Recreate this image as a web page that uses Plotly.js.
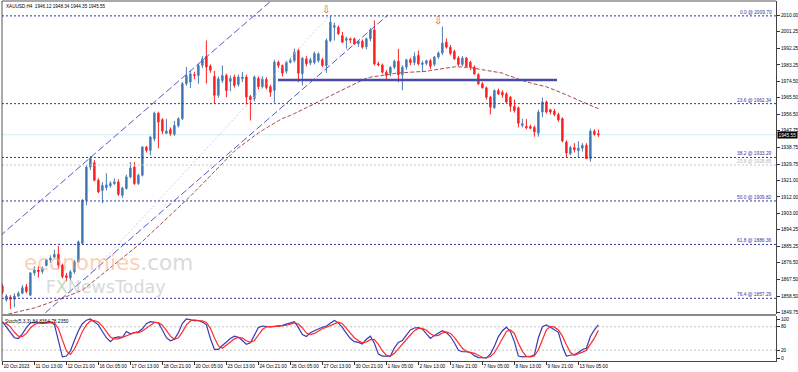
<!DOCTYPE html>
<html><head><meta charset="utf-8">
<script src="https://cdn.plot.ly/plotly-3.0.1.min.js"></script>
<style>html,body{margin:0;padding:0;background:#fff;}#chart{width:798px;height:372px;}</style>
</head><body><div id="chart"></div>
<script>
const headerText = "XAUUSD,H4  1946.12 1948.34 1944.35 1945.55";
const stochText = "Stoch(5,3,3) 84.8364 78.2350";
const timeLabels = ["10 Oct 2023","11 Oct 13:00","12 Oct 21:00","16 Oct 05:00","17 Oct 13:00","18 Oct 21:00","20 Oct 05:00","23 Oct 13:00","24 Oct 21:00","26 Oct 05:00","27 Oct 13:00","30 Oct 21:00","1 Nov 05:00","2 Nov 13:00","3 Nov 21:00","7 Nov 05:00","8 Nov 13:00","9 Nov 21:00","13 Nov 05:00"];
const barsPerLabel = 8;
const priceTicks = [2010.00,2001.25,1992.25,1983.25,1974.50,1965.50,1956.50,1947.75,1938.75,1929.75,1921.00,1912.00,1903.00,1894.25,1885.25,1876.50,1867.50,1858.50,1849.75];
const stochTicks = [0,20,80,100];

const opens = [1864.0,1856.5,1858.0,1856.8,1858.5,1860.0,1863.5,1859.0,1871.0,1872.5,
1871.8,1875.0,1878.0,1879.5,1881.0,1875.2,1869.5,1868.3,1871.6,1877.0,
1887.0,1910.2,1928.1,1930.5,1921.0,1915.5,1917.0,1918.0,1919.2,1920.1,
1912.9,1916.5,1922.8,1928.1,1919.2,1923.7,1938.9,1937.1,1943.4,1957.2,
1953.7,1946.3,1948.3,1945.8,1950.4,1954.2,1973.1,1974.0,1978.0,1977.5,
1983.0,1987.8,1982.6,1977.0,1966.8,1974.8,1977.5,1974.4,1976.7,1972.7,
1975.8,1976.7,1966.2,1965.0,1976.0,1971.5,1975.5,1971.5,1969.5,1984.7,
1982.9,1979.8,1984.7,1985.5,1991.0,1978.5,1986.5,1984.2,1984.5,1985.5,
1986.0,1982.9,1996.4,2003.5,2003.5,1999.0,1996.5,1997.3,1997.3,1994.6,
1996.0,1993.0,1997.3,2002.1,1983.8,1983.2,1979.3,1978.8,1982.0,1985.2,
1978.0,1982.0,1986.0,1984.5,1988.3,1983.5,1984.0,1985.5,1983.5,1987.5,
1989.7,1995.5,1992.8,1990.5,1986.9,1983.5,1986.9,1984.7,1982.0,1978.0,
1973.0,1970.9,1965.8,1960.1,1969.4,1968.5,1967.6,1965.8,1960.9,1960.1,
1950.6,1950.1,1950.0,1949.5,1946.4,1957.8,1963.2,1959.1,1958.3,1956.5,
1954.2,1941.6,1935.4,1938.6,1937.0,1938.3,1939.8,1932.7,1947.5,1946.12];
const highs = [1865.0,1859.5,1859.0,1860.0,1861.0,1864.5,1865.0,1871.5,1874.5,1874.5,
1874.5,1878.5,1880.5,1883.5,1885.5,1876.0,1871.0,1872.5,1878.0,1888.5,
1910.8,1929.0,1934.0,1932.0,1922.0,1920.0,1924.8,1920.5,1922.0,1921.5,
1917.5,1924.0,1930.8,1930.8,1924.5,1939.5,1939.5,1945.0,1958.0,1958.0,
1954.5,1954.0,1949.5,1953.0,1955.0,1974.0,1982.0,1980.0,1979.5,1984.0,
1988.0,1996.4,1983.5,1980.0,1977.0,1982.9,1978.5,1977.5,1978.0,1978.0,
1979.5,1978.0,1967.0,1977.5,1977.0,1977.0,1976.5,1972.5,1986.0,1985.5,
1983.5,1985.5,1987.0,1992.0,1992.0,1987.5,1988.0,1987.0,1990.5,1990.0,
1987.0,1997.5,2009.7,2006.0,2004.5,2001.0,1998.5,1998.0,1998.0,1996.5,
1997.0,1998.0,2003.0,2007.2,1985.0,1984.0,1980.5,1982.5,1986.0,1991.9,
1983.0,1986.5,1987.0,1990.0,1991.0,1985.5,1986.0,1986.5,1988.0,1990.5,
2003.9,1997.5,1994.0,1991.5,1988.0,1988.0,1987.5,1985.5,1983.0,1978.8,
1974.0,1971.5,1966.5,1970.0,1970.5,1969.5,1968.5,1966.5,1964.5,1960.8,
1954.2,1954.0,1951.0,1950.5,1959.0,1965.6,1964.0,1959.5,1959.5,1957.5,
1955.0,1942.5,1939.5,1941.0,1942.0,1941.0,1941.0,1948.8,1948.5,1948.34];
const lows = [1859.5,1855.5,1851.5,1852.5,1858.0,1859.5,1860.0,1858.5,1869.5,1868.5,
1870.5,1874.5,1876.5,1879.0,1873.0,1868.0,1866.5,1867.0,1870.5,1876.5,
1886.0,1907.5,1926.5,1920.5,1914.0,1908.6,1915.5,1917.0,1918.5,1912.5,
1911.5,1916.0,1922.0,1918.5,1918.5,1923.0,1936.0,1934.4,1942.0,1938.2,
1946.0,1946.0,1945.0,1945.0,1949.5,1953.5,1972.0,1970.8,1975.5,1973.1,
1981.5,1973.2,1979.0,1962.5,1965.5,1973.5,1965.8,1969.0,1971.0,1971.5,
1974.0,1961.9,1953.3,1963.5,1970.0,1970.5,1970.0,1966.0,1962.8,1981.5,
1977.0,1978.5,1984.0,1984.5,1973.9,1972.1,1982.5,1983.0,1983.5,1984.5,
1982.0,1978.9,1995.5,1996.4,1999.5,1995.0,1992.0,1995.0,1994.0,1993.0,
1992.0,1991.5,1996.0,1983.0,1982.5,1978.5,1974.8,1977.0,1981.0,1973.9,
1969.5,1980.5,1983.0,1983.0,1983.0,1979.3,1983.0,1981.0,1982.5,1986.5,
1988.5,1992.0,1988.5,1986.0,1982.5,1982.5,1982.0,1980.5,1978.0,1972.5,
1970.5,1964.5,1956.5,1959.5,1967.0,1965.5,1962.5,1958.0,1957.5,1949.5,
1949.5,1948.5,1948.5,1944.5,1944.5,1955.0,1957.0,1956.5,1955.5,1952.5,
1941.5,1933.2,1934.5,1936.0,1933.4,1936.5,1932.5,1931.0,1945.0,1944.35];
const closes = [1860.5,1858.5,1856.8,1858.5,1860.0,1863.0,1861.0,1871.0,1872.5,1871.8,
1873.5,1878.0,1879.0,1881.0,1875.2,1869.0,1868.5,1871.6,1877.0,1887.8,
1910.2,1928.1,1932.8,1921.0,1914.7,1918.2,1918.5,1919.3,1920.1,1913.4,
1916.7,1922.8,1927.6,1919.2,1923.7,1938.9,1937.1,1944.3,1957.2,1952.4,
1947.5,1947.6,1946.1,1950.6,1954.2,1973.1,1977.5,1978.4,1977.6,1982.9,
1986.5,1982.1,1980.4,1966.8,1975.7,1977.5,1969.4,1975.9,1972.2,1976.7,
1976.7,1965.9,1964.4,1976.7,1971.5,1975.5,1971.0,1968.5,1984.7,1982.9,
1978.8,1984.7,1985.6,1990.1,1978.8,1986.8,1983.8,1986.0,1989.4,1989.2,
1983.0,1996.4,2006.2,2004.4,2000.0,1995.5,1997.5,1996.8,1994.6,1996.0,
1992.8,1997.3,2002.1,1983.8,1983.2,1979.3,1977.5,1982.0,1985.2,1978.0,
1982.0,1986.0,1984.5,1987.8,1983.8,1984.3,1985.5,1982.5,1987.5,1989.7,
1995.0,1992.8,1989.5,1986.5,1983.5,1986.9,1982.5,1982.0,1978.4,1973.0,
1970.9,1965.8,1960.4,1969.4,1967.6,1967.0,1963.2,1960.9,1958.6,1951.8,
1951.5,1949.3,1949.0,1947.1,1957.8,1963.2,1957.8,1957.8,1956.5,1953.6,
1942.2,1935.7,1938.6,1937.5,1938.3,1939.8,1932.7,1947.5,1945.8,1945.55];
const movingAvg = [1848.0,1848.5,1849.0,1849.4,1849.9,1850.4,1850.9,1851.5,1852.1,1852.8,
1853.5,1854.2,1855.0,1855.8,1856.6,1857.4,1858.2,1859.0,1859.8,1860.6,
1861.7,1863.4,1865.1,1866.8,1868.5,1870.2,1871.9,1873.6,1875.3,1877.0,
1878.7,1880.4,1882.2,1884.0,1886.0,1888.0,1890.0,1892.0,1894.0,1896.0,
1898.0,1900.0,1902.0,1904.0,1905.9,1907.9,1910.1,1912.4,1914.6,1916.8,
1919.1,1921.3,1923.6,1925.8,1928.0,1930.3,1932.5,1934.8,1936.7,1938.5,
1940.2,1941.9,1943.5,1945.0,1946.5,1947.9,1949.3,1950.6,1951.9,1953.1,
1954.3,1955.0,1956.0,1957.0,1958.0,1959.0,1960.1,1961.2,1962.2,1963.3,
1964.4,1965.5,1966.6,1967.7,1968.8,1969.9,1971.0,1972.1,1973.2,1974.3,
1975.3,1976.1,1976.6,1977.0,1977.3,1977.6,1977.9,1978.2,1978.6,1978.9,
1979.0,1979.1,1979.2,1979.3,1979.4,1979.5,1979.8,1980.2,1980.6,1981.0,
1981.4,1981.8,1982.1,1982.2,1982.2,1982.2,1982.1,1981.8,1981.4,1981.0,
1980.6,1980.3,1980.0,1979.7,1979.4,1978.8,1977.9,1977.1,1976.3,1975.4,
1974.6,1974.1,1973.5,1973.0,1972.4,1971.9,1971.4,1970.6,1969.8,1968.9,
1968.1,1967.1,1966.1,1965.1,1964.1,1963.2,1962.3,1961.4,1960.5,1959.7];
const stochMain = [93,80,65,52,50,62,78,90,91,90,
89,90,93,86,45,3,5,18,45,70,
88,97,100,92,85,68,52,42,52,54,
53,68,62,65,67,75,88,93,91,90,
72,52,44,48,65,89,100,97,96,96,
92,85,50,22,22,32,42,50,56,53,
45,35,39,60,78,82,81,80,81,82,
84,87,90,93,78,60,55,65,70,75,
79,82,90,96,90,78,63,50,42,40,
36,48,56,38,10,5,5,5,26,40,
45,60,72,77,78,74,62,50,58,65,
70,65,55,39,20,16,16,14,6,1,
0,0,10,30,55,70,79,68,42,5,
3,3,4,8,52,80,85,79,72,66,
30,5,7,9,14,22,25,55,72,84.84];
const stochSignal = [90,88,80,66,56,55,63,77,86,90,
90,90,91,90,75,45,18,9,23,44,
68,85,95,96,92,82,68,54,49,49,
53,58,61,65,65,69,77,85,91,91,
84,71,56,48,52,67,85,95,98,96,
95,91,76,52,31,25,32,41,49,53,
51,44,40,45,59,73,80,81,81,81,
82,84,87,90,87,77,64,60,63,70,
75,79,84,89,92,88,77,64,52,44,
39,41,47,47,35,18,7,5,12,24,
37,48,59,70,76,76,71,62,57,58,
64,67,63,53,38,25,17,15,12,7,
2,0,4,13,32,52,68,72,63,38,
17,4,3,5,21,47,72,81,79,72,
56,34,14,7,10,15,20,34,51,71];

const fibPrices = [2009.70,1962.34,1933.29,1909.82,1886.36,1857.29];
const fibLabels = ["0.0 @ 2009.70","23.6 @ 1962.34","38.2 @ 1933.29","50.0 @ 1909.82","61.8 @ 1886.36","76.4 @ 1857.29"];
const fib2Prices = [1929.2];
const fib2Labels = ["23.6 @ 1928.85"];
const lastPrice = 1945.55;
const channelBars = [-0.6, 96.4];
const channelUpper = [1890.9, 2072.5];
const channelLower = [1828.2, 2010.2];
const faintBars = [20.6, 81.6];
const faintPrices = [1867.0, 2009.5];
const necklineBars = [68.9, 138.65];
const necklinePrice = [1975.1, 1975.1];
const fractalBars = [82, 110];
const stochLevels = [20, 80];

const bars = opens.map((_, i) => i);
const tickBars = timeLabels.map((_, k) => k * barsPerLabel);
const FONT = "Liberation Sans, Arial, sans-serif";
const TXT = 4.8;

const traces = [
  {type:'scatter', mode:'lines', x:faintBars, y:faintPrices, line:{color:'#cfcff0', width:1, dash:'2px,2px'}, hoverinfo:'skip'},
  {type:'scatter', mode:'lines', x:channelBars, y:channelUpper, line:{color:'#5656bc', width:1, dash:'7px,3px'}, hoverinfo:'skip'},
  {type:'scatter', mode:'lines', x:channelBars, y:channelLower, line:{color:'#5656bc', width:1, dash:'7px,3px'}, hoverinfo:'skip'},
  {type:'scatter', mode:'lines', x:bars, y:movingAvg, line:{color:'#a44a4a', width:1, dash:'4px,2px'}, hoverinfo:'skip'},
  {type:'candlestick', x:bars, open:opens, high:highs, low:lows, close:closes,
   increasing:{line:{color:'#4a7db2', width:1}, fillcolor:'#3572b0'},
   decreasing:{line:{color:'#ff2020', width:1}, fillcolor:'#ff1a1a'},
   whiskerwidth:0, hoverinfo:'skip', xaxis:'x', yaxis:'y'},
  {type:'scatter', mode:'lines', x:bars, y:stochMain, xaxis:'x', yaxis:'y2', line:{color:'#3a3ab4', width:1.2}, hoverinfo:'skip'},
  {type:'scatter', mode:'lines', x:bars, y:stochSignal, xaxis:'x', yaxis:'y2', line:{color:'#ff2a2a', width:1.2}, hoverinfo:'skip'}
];

const shapes = [];
fibPrices.forEach(p => shapes.push({type:'line', xref:'paper', x0:0, x1:1, yref:'y', y0:p, y1:p, line:{color:'#3434a6', width:1, dash:'2px,2px'}, layer:'above'}));
fib2Prices.forEach(p => shapes.push({type:'line', xref:'paper', x0:0, x1:1, yref:'y', y0:p, y1:p, line:{color:'#c4c4c4', width:1, dash:'2px,2px'}, layer:'above'}));
shapes.push({type:'line', xref:'paper', x0:0, x1:1, yref:'y', y0:lastPrice, y1:lastPrice, line:{color:'#cdeef3', width:1}, layer:'below'});
shapes.push({type:'line', xref:'x', x0:necklineBars[0], x1:necklineBars[1], yref:'y', y0:necklinePrice[0], y1:necklinePrice[1], line:{color:'#4a4aaa', width:2.6}, layer:'above'});
stochLevels.forEach(v => shapes.push({type:'line', xref:'paper', x0:0, x1:1, yref:'y2', y0:v, y1:v, line:{color:'#c2c2c2', width:1, dash:'2px,2px'}, layer:'below'}));
shapes.push({type:'line', xref:'paper', yref:'paper', x0:0, x1:0, y0:0, y1:1, line:{color:'#555', width:1}});
shapes.push({type:'line', xref:'paper', yref:'paper', x0:0, x1:1, y0:1, y1:1, line:{color:'#555', width:1}});
shapes.push({type:'rect', xref:'paper', yref:'paper', x0:0, x1:1, y0:0.1250, y1:0.1306, fillcolor:'#8a8a8a', line:{width:0}});

const annotations = [];
annotations.push({xref:'paper', yref:'paper', x:0, y:1, xanchor:'left', yanchor:'top', xshift:2, yshift:-1, text:headerText, showarrow:false, font:{family:FONT, size:4.6, color:'#000'}});
fibPrices.forEach((p, k) => annotations.push({xref:'paper', x:1, xanchor:'right', xshift:-2, yref:'y', y:p, yanchor:'bottom', yshift:-1, text:fibLabels[k], showarrow:false, font:{family:FONT, size:TXT, color:'#3434a6'}}));
fib2Prices.forEach((p, k) => annotations.push({xref:'paper', x:1, xanchor:'right', xshift:-2, yref:'y', y:p, yanchor:'bottom', yshift:-1, text:fib2Labels[k], showarrow:false, font:{family:FONT, size:TXT, color:'#b8b8b8'}}));
annotations.push({xref:'paper', x:1, xanchor:'left', xshift:1, yref:'y', y:lastPrice, yanchor:'middle', text:lastPrice.toFixed(2), showarrow:false, bgcolor:'#000', borderpad:0.5, font:{family:FONT, size:TXT, color:'#fff'}});
annotations.push({xref:'paper', yref:'paper', x:0, y:0.125, xanchor:'left', yanchor:'top', xshift:1, yshift:-1, text:stochText, showarrow:false, font:{family:FONT, size:TXT, color:'#000'}});
// watermark: one two-line text block
const wmOrange = 'rgba(247,178,136,0.62)', wmGrey = 'rgba(185,185,185,0.55)', wmGreen = 'rgba(150,200,140,0.6)';
annotations.push({xref:'paper', yref:'paper', x:0.029, y:0.244, xanchor:'left', yanchor:'middle', align:'left', xshift:-2,
  text:'<span style="font-size:21.5px;color:' + wmOrange + '">economies</span><span style="font-size:21.5px;color:' + wmGrey + '">.com</span><br>' +
       '<span style="font-size:17px">&nbsp;&nbsp;&nbsp;&nbsp;</span><span style="font-size:17.5px;color:' + wmGrey + '">F</span><span style="font-size:17.5px;color:' + wmGreen + '">X</span><span style="font-size:17.5px;color:' + wmGrey + '">NewsToday</span>',
  showarrow:false, font:{family:'DejaVu Sans', size:18}});
fractalBars.forEach(b => annotations.push({xref:'x', yref:'y', x:b, y:highs[b], xanchor:'center', yanchor:'bottom', xshift:-4, yshift:-1, text:'⇩', showarrow:false, font:{family:'DejaVu Sans', size:10, color:'#f04848'}}));

const layout = {
  width:798, height:372, margin:{l:2, r:22, t:1, b:11, pad:0},
  paper_bgcolor:'#ffffff', plot_bgcolor:'#ffffff', showlegend:false, boxgap:0.5,
  xaxis:{domain:[0,1], range:[-0.1,193.4], anchor:'y2', tickmode:'array', tickvals:tickBars, ticktext:timeLabels,
    ticks:'outside', ticklen:3, tickwidth:1, tickcolor:'#333', ticklabelposition:'outside right',
    tickfont:{family:FONT, size:TXT, color:'#000'}, showline:true, linecolor:'#444', linewidth:1,
    showgrid:false, zeroline:false, rangeslider:{visible:false}, fixedrange:true, tickangle:0},
  yaxis:{domain:[0.1306,1], range:[1848.83,2017.72], side:'right', anchor:'x', tickmode:'array', tickvals:priceTicks,
    ticktext:priceTicks.map(v => v.toFixed(2)), ticks:'outside', ticklen:3, tickcolor:'#333',
    tickfont:{family:FONT, size:TXT, color:'#000'}, showline:true, linecolor:'#444', linewidth:1, showgrid:false, zeroline:false, fixedrange:true},
  yaxis2:{domain:[0,0.125], range:[-7.7,107.7], side:'right', anchor:'x', tickmode:'array', tickvals:stochTicks,
    ticktext:stochTicks.map(String), ticks:'outside', ticklen:3, tickcolor:'#333',
    tickfont:{family:FONT, size:TXT, color:'#000'}, showline:true, linecolor:'#444', linewidth:1, showgrid:false, zeroline:false, fixedrange:true},
  shapes:shapes, annotations:annotations
};
Plotly.newPlot('chart', traces, layout, {staticPlot:true, displayModeBar:false});
</script></body></html>
